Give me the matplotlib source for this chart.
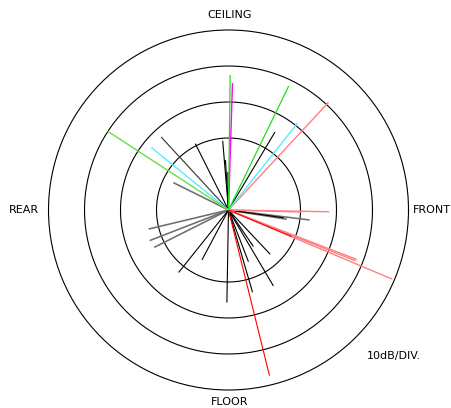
import matplotlib
matplotlib.use("Agg")
import matplotlib.pyplot as plt
import numpy as np

# reflection rays: direction (deg, 0 = FRONT, counter-clockwise) and level (dB above centre)
black_ang = [59.2, 116.6, 94.8, 93.5, 91.0, -91.0, -59.4, -73.7, -68.9, -46.7, -55.7, -128.6, -118.0, -8.0]
black_lvl = [25.2, 20.6, 19.3, 13.9, 10.5, 25.7, 24.5, 23.8, 15.4, 16.9, 12.3, 22.2, 15.7, 15.5]
dgray_ang = [132.7]
dgray_lvl = [27.6]
gray_ang = [153.6, -7.0, -9.0, -166.6, -158.8, -153.3]
gray_lvl = [17.1, 22.7, 16.4, 22.8, 23.5, 23.1]
salmon_ang = [47.1, -1.0, -1.6, -21.1, -21.8, -22.9]
salmon_lvl = [40.8, 28.0, 20.3, 38.2, 38.0, 49.4]
red_ang = [-22.8, -76.1]
red_lvl = [19.1, 47.4]
cyan_ang = [51.5, 141.0]
cyan_lvl = [30.8, 27.6]
magenta_ang = [88.2]
magenta_lvl = [35.3]
green_ang = [89.3, 64.1]
green_lvl = [37.5, 38.3]
lgreen_ang = [146.9]
lgreen_lvl = [40.1]

rings = [20, 30, 40]
r_max = 50

W, H = 452, 408
cx, cy, R = 228.5, 210, 180  # pixel centre / radius of the plot

fig = plt.figure(figsize=(W / 100, H / 100), dpi=100)
ax = fig.add_axes([(cx - R) / W, (H - cy - R) / H, 2 * R / W, 2 * R / H], projection="polar")
ax.set_ylim(0, r_max)
ax.set_yticks(rings)
ax.set_yticklabels([])
ax.set_xticks([])
ax.grid(False)
ax.spines["polar"].set_linewidth(0.8)
ax.spines["polar"].set_color("black")

th = np.linspace(0, 2 * np.pi, 400)
for r in rings:
    ax.plot(th, np.full_like(th, r), color="black", lw=0.8)


def rays(angs, lvls, color, lw):
    for a, l in zip(angs, lvls):
        t = np.deg2rad(a)
        ax.plot([t, t], [0, l], color=color, lw=lw, solid_capstyle="butt")


rays(gray_ang, gray_lvl, "#6e6e6e", 1.15)
rays(dgray_ang, dgray_lvl, "#3a3a3a", 0.85)
rays(black_ang, black_lvl, "black", 0.8)
rays(salmon_ang, salmon_lvl, "#ff8080", 1.0)
rays(red_ang, red_lvl, "#ff0000", 0.8)
rays(cyan_ang, cyan_lvl, "#55eeff", 1.0)
rays(magenta_ang, magenta_lvl, "#ff00ff", 1.0)
rays(green_ang, green_lvl, "#22dd22", 0.9)
rays(lgreen_ang, lgreen_lvl, "#66e044", 1.0)

fs = 8
fig.text(230 / W, 1 - 15 / H, "CEILING", ha="center", va="center", fontsize=fs)
fig.text(230 / W, 1 - 402 / H, "FLOOR", ha="center", va="center", fontsize=fs)
fig.text(24 / W, 1 - 210 / H, "REAR", ha="center", va="center", fontsize=fs)
fig.text(432 / W, 1 - 210 / H, "FRONT", ha="center", va="center", fontsize=fs)
fig.text(394 / W, 1 - 356 / H, "10dB/DIV.", ha="center", va="center", fontsize=fs)

fig.savefig("out.png", dpi=100)
